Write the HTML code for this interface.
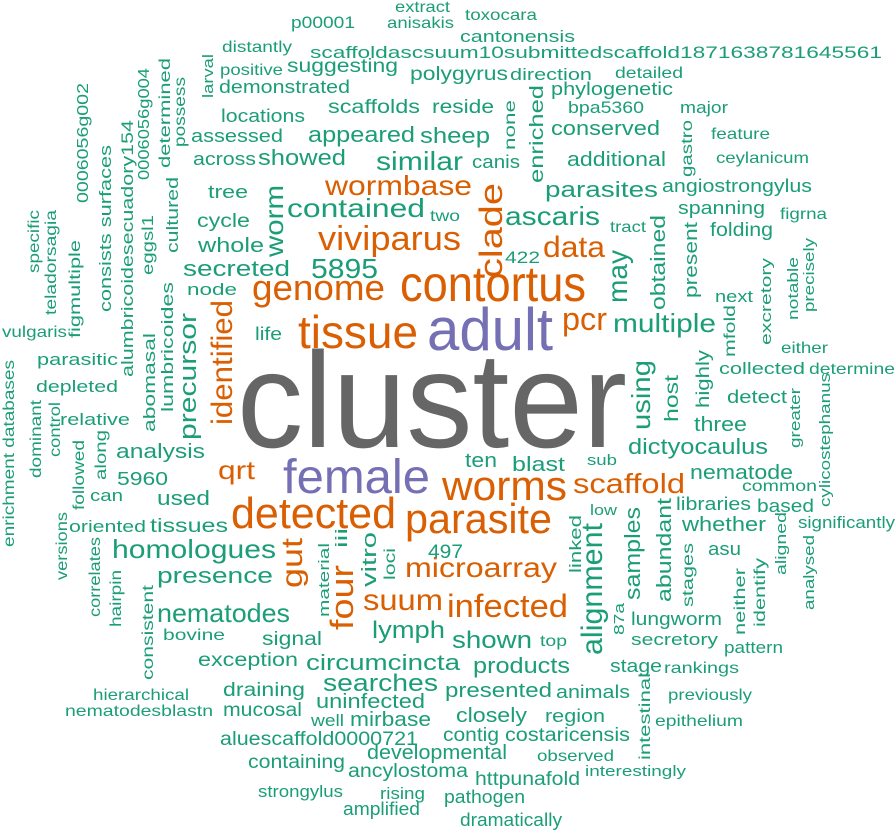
<!DOCTYPE html>
<html><head><meta charset="utf-8"><style>
html,body{margin:0;padding:0;background:#fff;width:896px;height:832px;overflow:hidden}
svg{display:block}
text{font-family:"Liberation Sans",Arial,sans-serif}
.g{fill:#1b9e77}.o{fill:#d95f02}.p{fill:#7570b3}.k{fill:#666666}
</style></head><body>
<svg width="896" height="832" viewBox="0 0 896 832" xmlns="http://www.w3.org/2000/svg">
<g>
<text class="k" x="237" y="447" font-size="136" textLength="390" lengthAdjust="spacingAndGlyphs">cluster</text>
<text class="p" x="427" y="350" font-size="60" textLength="126" lengthAdjust="spacingAndGlyphs">adult</text>
<text class="p" x="283" y="493" font-size="48" textLength="147" lengthAdjust="spacingAndGlyphs">female</text>
</g>
<g class="o">
<text x="400" y="301" font-size="50" textLength="186" lengthAdjust="spacingAndGlyphs">contortus</text>
<text x="298" y="348" font-size="46" textLength="120" lengthAdjust="spacingAndGlyphs">tissue</text>
<text x="231" y="528" font-size="44" textLength="165" lengthAdjust="spacingAndGlyphs">detected</text>
<text x="405" y="533" font-size="42" textLength="147" lengthAdjust="spacingAndGlyphs">parasite</text>
<text x="442" y="500" font-size="42" textLength="125" lengthAdjust="spacingAndGlyphs">worms</text>
<text x="252" y="300" font-size="36" textLength="133" lengthAdjust="spacingAndGlyphs">genome</text>
<text x="318" y="250" font-size="34" textLength="143" lengthAdjust="spacingAndGlyphs">viviparus</text>
<text x="573" y="493" font-size="28" textLength="112" lengthAdjust="spacingAndGlyphs">scaffold</text>
<text x="325" y="195" font-size="28" textLength="147" lengthAdjust="spacingAndGlyphs">wormbase</text>
<text x="543" y="257" font-size="30" textLength="62" lengthAdjust="spacingAndGlyphs">data</text>
<text x="562" y="330" font-size="32" textLength="45" lengthAdjust="spacingAndGlyphs">pcr</text>
<text x="218" y="479" font-size="26" textLength="37" lengthAdjust="spacingAndGlyphs">qrt</text>
<text x="447" y="617" font-size="32" textLength="121" lengthAdjust="spacingAndGlyphs">infected</text>
<text x="363" y="610" font-size="30" textLength="80" lengthAdjust="spacingAndGlyphs">suum</text>
<text x="405" y="577" font-size="28" textLength="152" lengthAdjust="spacingAndGlyphs">microarray</text>
<text transform="translate(302,588) rotate(-90)" font-size="30" textLength="50" lengthAdjust="spacingAndGlyphs">gut</text>
<text transform="translate(353,630) rotate(-90)" font-size="32" textLength="65" lengthAdjust="spacingAndGlyphs">four</text>
<text transform="translate(502,278) rotate(-90)" font-size="32" textLength="95" lengthAdjust="spacingAndGlyphs">clade</text>
<text transform="translate(232,425) rotate(-90)" font-size="30" textLength="125" lengthAdjust="spacingAndGlyphs">identified</text>
</g>
<g class="g">
<text transform="translate(602,655) rotate(-90)" font-size="30" textLength="132" lengthAdjust="spacingAndGlyphs">alignment</text>
<text transform="translate(627,303) rotate(-90)" font-size="28" textLength="53" lengthAdjust="spacingAndGlyphs">may</text>
<text x="287" y="217" font-size="26" textLength="138" lengthAdjust="spacingAndGlyphs">contained</text>
<text x="376" y="170" font-size="26" textLength="87" lengthAdjust="spacingAndGlyphs">similar</text>
<text x="505" y="225" font-size="26" textLength="95" lengthAdjust="spacingAndGlyphs">ascaris</text>
<text x="545" y="197" font-size="22" textLength="113" lengthAdjust="spacingAndGlyphs">parasites</text>
<text x="311" y="278" font-size="28" textLength="67" lengthAdjust="spacingAndGlyphs">5895</text>
<text x="183" y="276" font-size="22" textLength="107" lengthAdjust="spacingAndGlyphs">secreted</text>
<text x="613" y="332" font-size="26" textLength="103" lengthAdjust="spacingAndGlyphs">multiple</text>
<text x="112" y="558" font-size="26" textLength="164" lengthAdjust="spacingAndGlyphs">homologues</text>
<text x="157" y="622" font-size="26" textLength="133" lengthAdjust="spacingAndGlyphs">nematodes</text>
<text x="157" y="583" font-size="22" textLength="116" lengthAdjust="spacingAndGlyphs">presence</text>
<text transform="translate(196,440) rotate(-90)" font-size="24" textLength="127" lengthAdjust="spacingAndGlyphs">precursor</text>
<text transform="translate(283,257) rotate(-90)" font-size="26" textLength="72" lengthAdjust="spacingAndGlyphs">worm</text>
<text x="628" y="454" font-size="22" textLength="140" lengthAdjust="spacingAndGlyphs">dictyocaulus</text>
<text transform="translate(650,430) rotate(-90)" font-size="26" textLength="70" lengthAdjust="spacingAndGlyphs">using</text>
<text x="512" y="471" font-size="20" textLength="53" lengthAdjust="spacingAndGlyphs">blast</text>
<text x="465" y="467" font-size="20" textLength="32" lengthAdjust="spacingAndGlyphs">ten</text>
<text x="372" y="638" font-size="24" textLength="73" lengthAdjust="spacingAndGlyphs">lymph</text>
<text x="452" y="648" font-size="24" textLength="80" lengthAdjust="spacingAndGlyphs">shown</text>
<text x="540" y="646" font-size="16" textLength="27" lengthAdjust="spacingAndGlyphs">top</text>
<text x="306" y="670" font-size="22" textLength="154" lengthAdjust="spacingAndGlyphs">circumcincta</text>
<text x="473" y="673" font-size="22" textLength="97" lengthAdjust="spacingAndGlyphs">products</text>
<text x="323" y="691" font-size="24" textLength="115" lengthAdjust="spacingAndGlyphs">searches</text>
<text x="445" y="697" font-size="20" textLength="107" lengthAdjust="spacingAndGlyphs">presented</text>
<text x="316" y="708" font-size="20" textLength="109" lengthAdjust="spacingAndGlyphs">uninfected</text>
<text x="456" y="722" font-size="20" textLength="71" lengthAdjust="spacingAndGlyphs">closely</text>
<text x="350" y="726" font-size="20" textLength="81" lengthAdjust="spacingAndGlyphs">mirbase</text>
<text x="311" y="726" font-size="17" textLength="33" lengthAdjust="spacingAndGlyphs">well</text>
<text x="116" y="458" font-size="20" textLength="89" lengthAdjust="spacingAndGlyphs">analysis</text>
<text x="157" y="505" font-size="20" textLength="53" lengthAdjust="spacingAndGlyphs">used</text>
<text x="150" y="532" font-size="19" textLength="78" lengthAdjust="spacingAndGlyphs">tissues</text>
<text x="198" y="252" font-size="20" textLength="66" lengthAdjust="spacingAndGlyphs">whole</text>
<text x="197" y="227" font-size="19" textLength="53" lengthAdjust="spacingAndGlyphs">cycle</text>
<text x="208" y="198" font-size="18" textLength="40" lengthAdjust="spacingAndGlyphs">tree</text>
<text x="258" y="165" font-size="22" textLength="88" lengthAdjust="spacingAndGlyphs">showed</text>
<text x="308" y="142" font-size="22" textLength="107" lengthAdjust="spacingAndGlyphs">appeared</text>
<text x="420" y="143" font-size="22" textLength="70" lengthAdjust="spacingAndGlyphs">sheep</text>
<text x="328" y="113" font-size="19" textLength="92" lengthAdjust="spacingAndGlyphs">scaffolds</text>
<text x="432" y="113" font-size="19" textLength="62" lengthAdjust="spacingAndGlyphs">reside</text>
<text x="287" y="72" font-size="19" textLength="111" lengthAdjust="spacingAndGlyphs">suggesting</text>
<text x="410" y="80" font-size="19" textLength="98" lengthAdjust="spacingAndGlyphs">polygyrus</text>
<text x="510" y="80" font-size="17" textLength="82" lengthAdjust="spacingAndGlyphs">direction</text>
<text x="219" y="93" font-size="18" textLength="131" lengthAdjust="spacingAndGlyphs">demonstrated</text>
<text x="221" y="122" font-size="18" textLength="84" lengthAdjust="spacingAndGlyphs">locations</text>
<text x="191" y="142" font-size="18" textLength="92" lengthAdjust="spacingAndGlyphs">assessed</text>
<text x="193" y="165" font-size="18" textLength="63" lengthAdjust="spacingAndGlyphs">across</text>
<text x="472" y="168" font-size="18" textLength="48" lengthAdjust="spacingAndGlyphs">canis</text>
<text x="430" y="221" font-size="16" textLength="30" lengthAdjust="spacingAndGlyphs">two</text>
<text x="505" y="263" font-size="17" textLength="35" lengthAdjust="spacingAndGlyphs">422</text>
<text x="187" y="295" font-size="17" textLength="50" lengthAdjust="spacingAndGlyphs">node</text>
<text x="255" y="340" font-size="18" textLength="27" lengthAdjust="spacingAndGlyphs">life</text>
<text x="551" y="95" font-size="18" textLength="122" lengthAdjust="spacingAndGlyphs">phylogenetic</text>
<text x="615" y="78" font-size="16" textLength="68" lengthAdjust="spacingAndGlyphs">detailed</text>
<text x="568" y="113" font-size="17" textLength="76" lengthAdjust="spacingAndGlyphs">bpa5360</text>
<text x="680" y="113" font-size="17" textLength="48" lengthAdjust="spacingAndGlyphs">major</text>
<text x="551" y="135" font-size="20" textLength="109" lengthAdjust="spacingAndGlyphs">conserved</text>
<text x="567" y="166" font-size="20" textLength="99" lengthAdjust="spacingAndGlyphs">additional</text>
<text x="711" y="139" font-size="16" textLength="59" lengthAdjust="spacingAndGlyphs">feature</text>
<text x="716" y="163" font-size="16" textLength="93" lengthAdjust="spacingAndGlyphs">ceylanicum</text>
<text transform="translate(692,177) rotate(-90)" font-size="16" textLength="57" lengthAdjust="spacingAndGlyphs">gastro</text>
<text x="662" y="192" font-size="18" textLength="150" lengthAdjust="spacingAndGlyphs">angiostrongylus</text>
<text x="678" y="214" font-size="18" textLength="87" lengthAdjust="spacingAndGlyphs">spanning</text>
<text x="780" y="219" font-size="16" textLength="47" lengthAdjust="spacingAndGlyphs">figrna</text>
<text x="610" y="232" font-size="16" textLength="36" lengthAdjust="spacingAndGlyphs">tract</text>
<text x="710" y="236" font-size="19" textLength="63" lengthAdjust="spacingAndGlyphs">folding</text>
<text transform="translate(665,310) rotate(-90)" font-size="20" textLength="95" lengthAdjust="spacingAndGlyphs">obtained</text>
<text transform="translate(697,298) rotate(-90)" font-size="18" textLength="76" lengthAdjust="spacingAndGlyphs">present</text>
<text x="715" y="302" font-size="17" textLength="38" lengthAdjust="spacingAndGlyphs">next</text>
<text transform="translate(771,345) rotate(-90)" font-size="15" textLength="87" lengthAdjust="spacingAndGlyphs">excretory</text>
<text transform="translate(798,320) rotate(-90)" font-size="15" textLength="63" lengthAdjust="spacingAndGlyphs">notable</text>
<text transform="translate(814,312) rotate(-90)" font-size="15" textLength="74" lengthAdjust="spacingAndGlyphs">precisely</text>
<text transform="translate(735,357) rotate(-90)" font-size="16" textLength="52" lengthAdjust="spacingAndGlyphs">mfold</text>
<text x="781" y="353" font-size="16" textLength="47" lengthAdjust="spacingAndGlyphs">either</text>
<text x="719" y="374" font-size="17" textLength="86" lengthAdjust="spacingAndGlyphs">collected</text>
<text x="809" y="374" font-size="16" textLength="86" lengthAdjust="spacingAndGlyphs">determine</text>
<text transform="translate(709,408) rotate(-90)" font-size="18" textLength="58" lengthAdjust="spacingAndGlyphs">highly</text>
<text transform="translate(678,422) rotate(-90)" font-size="19" textLength="47" lengthAdjust="spacingAndGlyphs">host</text>
<text x="727" y="403" font-size="18" textLength="60" lengthAdjust="spacingAndGlyphs">detect</text>
<text x="694" y="431" font-size="20" textLength="53" lengthAdjust="spacingAndGlyphs">three</text>
<text transform="translate(800,448) rotate(-90)" font-size="15" textLength="60" lengthAdjust="spacingAndGlyphs">greater</text>
<text transform="translate(830,507) rotate(-90)" font-size="15" textLength="134" lengthAdjust="spacingAndGlyphs">cylicostephanus</text>
<text x="587" y="465" font-size="15" textLength="30" lengthAdjust="spacingAndGlyphs">sub</text>
<text x="690" y="479" font-size="20" textLength="103" lengthAdjust="spacingAndGlyphs">nematode</text>
<text x="742" y="491" font-size="16" textLength="75" lengthAdjust="spacingAndGlyphs">common</text>
<text x="590" y="515" font-size="15" textLength="27" lengthAdjust="spacingAndGlyphs">low</text>
<text x="676" y="510" font-size="18" textLength="75" lengthAdjust="spacingAndGlyphs">libraries</text>
<text x="757" y="512" font-size="18" textLength="57" lengthAdjust="spacingAndGlyphs">based</text>
<text x="682" y="531" font-size="20" textLength="84" lengthAdjust="spacingAndGlyphs">whether</text>
<text x="798" y="528" font-size="17" textLength="97" lengthAdjust="spacingAndGlyphs">significantly</text>
<text transform="translate(640,600) rotate(-90)" font-size="22" textLength="93" lengthAdjust="spacingAndGlyphs">samples</text>
<text transform="translate(671,602) rotate(-90)" font-size="20" textLength="104" lengthAdjust="spacingAndGlyphs">abundant</text>
<text transform="translate(693,607) rotate(-90)" font-size="16" textLength="64" lengthAdjust="spacingAndGlyphs">stages</text>
<text x="708" y="555" font-size="18" textLength="33" lengthAdjust="spacingAndGlyphs">asu</text>
<text transform="translate(786,575) rotate(-90)" font-size="15" textLength="63" lengthAdjust="spacingAndGlyphs">aligned</text>
<text transform="translate(814,610) rotate(-90)" font-size="15" textLength="75" lengthAdjust="spacingAndGlyphs">analysed</text>
<text transform="translate(765,627) rotate(-90)" font-size="16" textLength="69" lengthAdjust="spacingAndGlyphs">identify</text>
<text transform="translate(745,635) rotate(-90)" font-size="16" textLength="67" lengthAdjust="spacingAndGlyphs">neither</text>
<text transform="translate(624,635) rotate(-90)" font-size="15" textLength="32" lengthAdjust="spacingAndGlyphs">87a</text>
<text x="631" y="625" font-size="18" textLength="91" lengthAdjust="spacingAndGlyphs">lungworm</text>
<text x="631" y="645" font-size="17" textLength="87" lengthAdjust="spacingAndGlyphs">secretory</text>
<text x="724" y="653" font-size="17" textLength="59" lengthAdjust="spacingAndGlyphs">pattern</text>
<text x="610" y="672" font-size="18" textLength="52" lengthAdjust="spacingAndGlyphs">stage</text>
<text x="664" y="673" font-size="16" textLength="75" lengthAdjust="spacingAndGlyphs">rankings</text>
<text x="556" y="698" font-size="18" textLength="74" lengthAdjust="spacingAndGlyphs">animals</text>
<text x="545" y="722" font-size="18" textLength="60" lengthAdjust="spacingAndGlyphs">region</text>
<text transform="translate(650,760) rotate(-90)" font-size="16" textLength="87" lengthAdjust="spacingAndGlyphs">intestinal</text>
<text x="668" y="700" font-size="16" textLength="84" lengthAdjust="spacingAndGlyphs">previously</text>
<text x="655" y="726" font-size="16" textLength="88" lengthAdjust="spacingAndGlyphs">epithelium</text>
<text x="505" y="741" font-size="19" textLength="125" lengthAdjust="spacingAndGlyphs">costaricensis</text>
<text x="443" y="741" font-size="19" textLength="56" lengthAdjust="spacingAndGlyphs">contig</text>
<text x="367" y="759" font-size="20" textLength="140" lengthAdjust="spacingAndGlyphs">developmental</text>
<text x="537" y="761" font-size="16" textLength="77" lengthAdjust="spacingAndGlyphs">observed</text>
<text x="585" y="776" font-size="15" textLength="101" lengthAdjust="spacingAndGlyphs">interestingly</text>
<text x="475" y="785" font-size="19" textLength="105" lengthAdjust="spacingAndGlyphs">httpunafold</text>
<text x="348" y="777" font-size="19" textLength="120" lengthAdjust="spacingAndGlyphs">ancylostoma</text>
<text x="248" y="768" font-size="19" textLength="97" lengthAdjust="spacingAndGlyphs">containing</text>
<text x="220" y="745" font-size="19" textLength="198" lengthAdjust="spacingAndGlyphs">aluescaffold0000721</text>
<text x="223" y="716" font-size="19" textLength="79" lengthAdjust="spacingAndGlyphs">mucosal</text>
<text x="223" y="696" font-size="19" textLength="82" lengthAdjust="spacingAndGlyphs">draining</text>
<text x="198" y="666" font-size="19" textLength="100" lengthAdjust="spacingAndGlyphs">exception</text>
<text x="262" y="645" font-size="19" textLength="60" lengthAdjust="spacingAndGlyphs">signal</text>
<text x="163" y="640" font-size="16" textLength="62" lengthAdjust="spacingAndGlyphs">bovine</text>
<text x="93" y="700" font-size="16" textLength="96" lengthAdjust="spacingAndGlyphs">hierarchical</text>
<text x="65" y="716" font-size="16" textLength="148" lengthAdjust="spacingAndGlyphs">nematodesblastn</text>
<text x="258" y="797" font-size="17" textLength="85" lengthAdjust="spacingAndGlyphs">strongylus</text>
<text x="380" y="799" font-size="17" textLength="45" lengthAdjust="spacingAndGlyphs">rising</text>
<text x="343" y="815" font-size="18" textLength="77" lengthAdjust="spacingAndGlyphs">amplified</text>
<text x="444" y="803" font-size="18" textLength="81" lengthAdjust="spacingAndGlyphs">pathogen</text>
<text x="460" y="826" font-size="18" textLength="102" lengthAdjust="spacingAndGlyphs">dramatically</text>
<text transform="translate(329,617) rotate(-90)" font-size="15" textLength="74" lengthAdjust="spacingAndGlyphs">material</text>
<text transform="translate(347,548) rotate(-90)" font-size="17" textLength="20" lengthAdjust="spacingAndGlyphs">iii</text>
<text transform="translate(376,587) rotate(-90)" font-size="20" textLength="55" lengthAdjust="spacingAndGlyphs">vitro</text>
<text transform="translate(395,580) rotate(-90)" font-size="16" textLength="32" lengthAdjust="spacingAndGlyphs">loci</text>
<text x="428" y="558" font-size="19" textLength="35" lengthAdjust="spacingAndGlyphs">497</text>
<text transform="translate(581,573) rotate(-90)" font-size="17" textLength="58" lengthAdjust="spacingAndGlyphs">linked</text>
<text transform="translate(515,150) rotate(-90)" font-size="16" textLength="50" lengthAdjust="spacingAndGlyphs">none</text>
<text transform="translate(543,183) rotate(-90)" font-size="19" textLength="98" lengthAdjust="spacingAndGlyphs">enriched</text>
<text transform="translate(173,412) rotate(-90)" font-size="17" textLength="130" lengthAdjust="spacingAndGlyphs">lumbricoides</text>
<text transform="translate(155,432) rotate(-90)" font-size="17" textLength="99" lengthAdjust="spacingAndGlyphs">abomasal</text>
<text x="37" y="365" font-size="17" textLength="81" lengthAdjust="spacingAndGlyphs">parasitic</text>
<text x="36" y="392" font-size="17" textLength="82" lengthAdjust="spacingAndGlyphs">depleted</text>
<text x="60" y="425" font-size="17" textLength="70" lengthAdjust="spacingAndGlyphs">relative</text>
<text transform="translate(106,480) rotate(-90)" font-size="16" textLength="50" lengthAdjust="spacingAndGlyphs">along</text>
<text transform="translate(84,510) rotate(-90)" font-size="16" textLength="70" lengthAdjust="spacingAndGlyphs">followed</text>
<text x="90" y="501" font-size="17" textLength="33" lengthAdjust="spacingAndGlyphs">can</text>
<text x="117" y="485" font-size="18" textLength="51" lengthAdjust="spacingAndGlyphs">5960</text>
<text x="69" y="532" font-size="17" textLength="77" lengthAdjust="spacingAndGlyphs">oriented</text>
<text transform="translate(67,580) rotate(-90)" font-size="16" textLength="68" lengthAdjust="spacingAndGlyphs">versions</text>
<text transform="translate(100,617) rotate(-90)" font-size="16" textLength="80" lengthAdjust="spacingAndGlyphs">correlates</text>
<text transform="translate(121,627) rotate(-90)" font-size="16" textLength="57" lengthAdjust="spacingAndGlyphs">hairpin</text>
<text transform="translate(153,680) rotate(-90)" font-size="16" textLength="95" lengthAdjust="spacingAndGlyphs">consistent</text>
<text transform="translate(14,547) rotate(-90)" font-size="16" textLength="187" lengthAdjust="spacingAndGlyphs">enrichment databases</text>
<text transform="translate(41,478) rotate(-90)" font-size="16" textLength="78" lengthAdjust="spacingAndGlyphs">dominant</text>
<text transform="translate(60,457) rotate(-90)" font-size="16" textLength="55" lengthAdjust="spacingAndGlyphs">control</text>
<text x="2" y="337" font-size="16" textLength="65" lengthAdjust="spacingAndGlyphs">vulgaris</text>
<text transform="translate(80,338) rotate(-90)" font-size="16" textLength="98" lengthAdjust="spacingAndGlyphs">figmultiple</text>
<text transform="translate(56,315) rotate(-90)" font-size="16" textLength="105" lengthAdjust="spacingAndGlyphs">teladorsagia</text>
<text transform="translate(39,273) rotate(-90)" font-size="16" textLength="63" lengthAdjust="spacingAndGlyphs">specific</text>
<text transform="translate(111,312) rotate(-90)" font-size="17" textLength="167" lengthAdjust="spacingAndGlyphs">consists surfaces</text>
<text transform="translate(133,377) rotate(-90)" font-size="17" textLength="257" lengthAdjust="spacingAndGlyphs">alumbricoidesecuadory154</text>
<text transform="translate(88,203) rotate(-90)" font-size="16" textLength="120" lengthAdjust="spacingAndGlyphs">0006056g002</text>
<text transform="translate(149,180) rotate(-90)" font-size="16" textLength="112" lengthAdjust="spacingAndGlyphs">0006056g004</text>
<text transform="translate(153,275) rotate(-90)" font-size="16" textLength="60" lengthAdjust="spacingAndGlyphs">eggsl1</text>
<text transform="translate(170,168) rotate(-90)" font-size="16" textLength="110" lengthAdjust="spacingAndGlyphs">determined</text>
<text transform="translate(185,147) rotate(-90)" font-size="16" textLength="70" lengthAdjust="spacingAndGlyphs">possess</text>
<text transform="translate(178,253) rotate(-90)" font-size="17" textLength="76" lengthAdjust="spacingAndGlyphs">cultured</text>
<text transform="translate(213,98) rotate(-90)" font-size="15" textLength="44" lengthAdjust="spacingAndGlyphs">larval</text>
<text x="220" y="75" font-size="16" textLength="63" lengthAdjust="spacingAndGlyphs">positive</text>
<text x="222" y="52" font-size="16" textLength="70" lengthAdjust="spacingAndGlyphs">distantly</text>
<text x="291" y="28" font-size="17" textLength="64" lengthAdjust="spacingAndGlyphs">p00001</text>
<text x="387" y="28" font-size="16" textLength="67" lengthAdjust="spacingAndGlyphs">anisakis</text>
<text x="395" y="12" font-size="16" textLength="55" lengthAdjust="spacingAndGlyphs">extract</text>
<text x="465" y="20" font-size="16" textLength="72" lengthAdjust="spacingAndGlyphs">toxocara</text>
<text x="460" y="42" font-size="17" textLength="115" lengthAdjust="spacingAndGlyphs">cantonensis</text>
<text x="310" y="58" font-size="17" textLength="572" lengthAdjust="spacingAndGlyphs">scaffoldascsuum10submittedscaffold1871638781645561</text>
</g>
</svg>
</body></html>
